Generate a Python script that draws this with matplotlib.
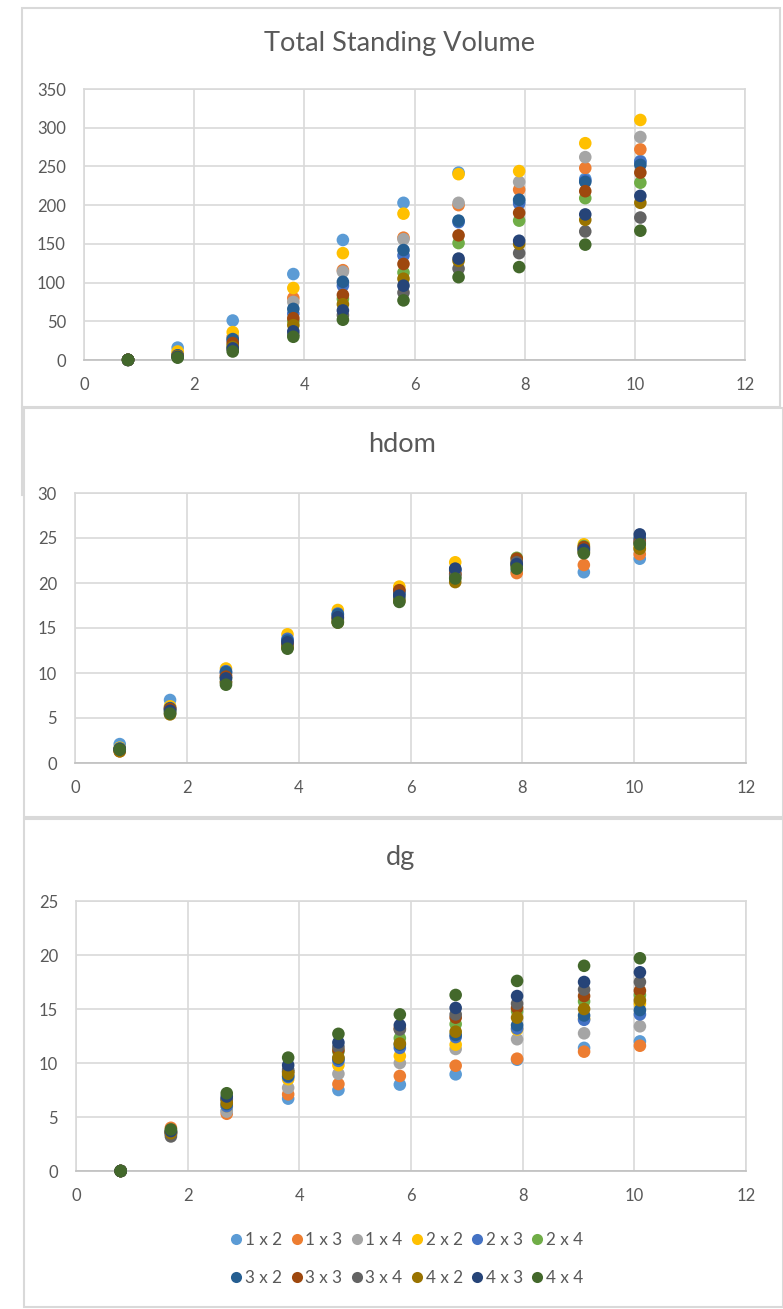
import matplotlib
matplotlib.use("Agg")
import matplotlib.pyplot as plt
from matplotlib.patches import Rectangle
from matplotlib.lines import Line2D

plt.rcParams['font.family'] = ['Lato', 'DejaVu Sans']

x_years = [0.8, 1.7, 2.7, 3.8, 4.7, 5.8, 6.8, 7.9, 9.1, 10.1]
series_names = ["1 x 2", "1 x 3", "1 x 4", "2 x 2", "2 x 3", "2 x 4",
                "3 x 2", "3 x 3", "3 x 4", "4 x 2", "4 x 3", "4 x 4"]
series_colors = ["#5B9BD5", "#ED7D31", "#A5A5A5", "#FFC000", "#4472C4", "#70AD47",
                 "#255E91", "#9E480E", "#636363", "#997300", "#264478", "#43682B"]

volume = {
    "1 x 2": [0.3, 16, 51, 111, 155, 203, 242, 205, 234, 257],
    "1 x 3": [0.2, 8, 30, 80, 116, 158, 200, 220, 248, 272],
    "1 x 4": [0.2, 7, 28, 75, 114, 156, 203, 230, 262, 288],
    "2 x 2": [0.3, 11, 36, 93, 138, 189, 240, 244, 280, 310],
    "2 x 3": [0.2, 6, 25, 60, 96, 135, 178, 202, 232, 256],
    "2 x 4": [0.2, 5, 19, 50, 79, 113, 151, 180, 209, 229],
    "3 x 2": [0.2, 6, 27, 66, 101, 142, 180, 207, 230, 252],
    "3 x 3": [0.2, 5, 22, 54, 84, 124, 161, 190, 218, 242],
    "3 x 4": [0.1, 4, 14, 33, 58, 87, 118, 138, 166, 184],
    "4 x 2": [0.2, 5, 17, 45, 72, 105, 128, 150, 181, 203],
    "4 x 3": [0.1, 4, 15, 37, 64, 96, 131, 154, 188, 212],
    "4 x 4": [0.1, 3, 11, 30, 52, 77, 107, 120, 149, 167],
}
hdom = {
    "1 x 2": [2.1, 7.0, 10.0, 13.6, 16.4, 19.0, 21.3, 21.3, 21.2, 22.7],
    "1 x 3": [1.3, 6.2, 9.8, 13.4, 16.2, 19.2, 21.0, 21.1, 22.0, 23.2],
    "1 x 4": [1.5, 6.0, 9.6, 13.3, 16.1, 18.9, 21.0, 21.8, 23.5, 23.8],
    "2 x 2": [1.7, 6.3, 10.5, 14.3, 17.0, 19.6, 22.3, 22.4, 24.3, 24.0],
    "2 x 3": [1.6, 6.0, 10.2, 13.8, 16.6, 19.1, 21.4, 22.2, 23.9, 24.8],
    "2 x 4": [1.5, 5.8, 9.4, 13.0, 15.8, 18.4, 20.6, 22.8, 24.1, 24.5],
    "3 x 2": [1.6, 6.1, 10.1, 13.6, 16.5, 18.8, 21.5, 22.0, 23.8, 25.0],
    "3 x 3": [1.5, 6.0, 9.6, 13.2, 16.0, 19.2, 21.0, 22.7, 24.0, 24.6],
    "3 x 4": [1.4, 5.6, 9.0, 12.9, 15.7, 18.2, 20.8, 22.3, 23.6, 24.4],
    "4 x 2": [1.3, 5.4, 9.0, 12.8, 15.6, 18.0, 20.1, 22.0, 23.4, 23.8],
    "4 x 3": [1.5, 5.8, 9.4, 13.4, 16.2, 18.6, 21.6, 22.1, 23.7, 25.4],
    "4 x 4": [1.5, 5.5, 8.7, 12.7, 15.6, 17.9, 20.5, 21.6, 23.3, 24.3],
}
dg = {
    "1 x 2": [0, 3.4, 5.6, 6.7, 7.5, 8.0, 8.95, 10.3, 11.4, 12.0],
    "1 x 3": [0, 4.0, 5.3, 7.1, 8.05, 8.8, 9.75, 10.4, 11.05, 11.6],
    "1 x 4": [0, 3.4, 5.5, 7.7, 9.0, 10.0, 11.3, 12.2, 12.75, 13.4],
    "2 x 2": [0, 3.6, 6.0, 8.5, 9.8, 10.65, 11.7, 13.1, 14.1, 15.5],
    "2 x 3": [0, 3.5, 6.0, 8.7, 10.2, 11.4, 12.4, 13.2, 14.0, 14.5],
    "2 x 4": [0, 3.7, 6.6, 9.2, 11.05, 12.3, 13.6, 14.8, 15.7, 16.3],
    "3 x 2": [0, 3.6, 6.2, 8.8, 10.4, 11.7, 12.6, 13.5, 14.4, 14.9],
    "3 x 3": [0, 3.6, 6.6, 9.2, 11.2, 13.2, 14.2, 15.1, 16.2, 16.7],
    "3 x 4": [0, 3.2, 6.7, 9.4, 11.5, 13.1, 14.5, 15.5, 16.8, 17.5],
    "4 x 2": [0, 3.5, 6.3, 9.0, 10.5, 11.8, 12.9, 14.2, 15.0, 15.8],
    "4 x 3": [0, 3.7, 6.9, 9.8, 11.9, 13.5, 15.1, 16.2, 17.5, 18.4],
    "4 x 4": [0, 3.85, 7.2, 10.5, 12.7, 14.5, 16.3, 17.6, 19.0, 19.7],
}

panel_titles = ["Total Standing Volume", "hdom", "dg"]
y_limits = [(0, 350, 50), (0, 30, 5), (0, 25, 5)]
x_ticks = [0, 2, 4, 6, 8, 10, 12]

W, H = 783, 1309
fig = plt.figure(figsize=(W / 100, H / 100), dpi=100)

TXT = "#595959"
GRID = "#D9D9D9"
BORDER = "#D9D9D9"

def px_rect(l, t, r, b):
    return [l / W, 1 - b / H, (r - l) / W, (b - t) / H]

# panel borders
for (l, t, r, b) in [(22, 8, 780, 407), (24, 408, 783, 817), (24, 819, 783, 1307)]:
    fig.patches.append(Rectangle((l / W, 1 - b / H), (r - l) / W, (b - t) / H,
                                 transform=fig.transFigure, fill=False,
                                 edgecolor=BORDER, linewidth=1.5))
fig.lines.append(Line2D([22 / W, 22 / W], [1 - 407 / H, 1 - 495 / H],
                        transform=fig.transFigure, color=BORDER, linewidth=1.5))

axes_px = [(84, 89, 745, 360), (75, 493, 746, 763), (76, 901, 746, 1171)]
title_pos = [(400, 44), (402, 445), (401, 857)]
datasets = [volume, hdom, dg]

for i, ax_px in enumerate(axes_px):
    ax = fig.add_axes(px_rect(*ax_px))
    data = datasets[i]
    for name, col in zip(series_names, series_colors):
        ax.scatter(x_years, data[name], s=82, color=col, edgecolors='none',
                   zorder=3, clip_on=False)
    lo, hi, step = y_limits[i]
    ax.set_ylim(lo, hi)
    ax.set_xlim(0, 12)
    ax.set_yticks(list(range(lo, hi + 1, step)))
    ax.set_xticks(x_ticks)
    ax.grid(True, color=GRID, linewidth=1.2, zorder=0)
    ax.set_axisbelow(True)
    for sp in ax.spines.values():
        sp.set_color(GRID)
        sp.set_linewidth(1.2)
    ax.spines['bottom'].set_color("#BFBFBF")
    ax.tick_params(length=0, labelsize=12, labelcolor=TXT)
    ax.tick_params(axis='y', pad=13)
    ax.tick_params(axis='x', pad=12)
    tx, ty = title_pos[i]
    fig.text(tx / W, 1 - ty / H, panel_titles[i], ha='center', va='center',
             fontsize=19.5, color=TXT)

handles = [Line2D([], [], linestyle='none', marker='o', markersize=8,
                  markerfacecolor=c, markeredgecolor='none') for c in series_colors]
# legend fills column-wise: interleave so rows read left-to-right
order = []
for k in range(6):
    order += [k, k + 6]
fig.legend([handles[k] for k in order], [series_names[k] for k in order],
           loc='center', ncol=6,
           bbox_to_anchor=(406 / W, 1 - 1259 / H), frameon=False,
           fontsize=12.3, labelcolor=TXT, handletextpad=0.05, columnspacing=0.4,
           handlelength=0.9, labelspacing=1.25)

fig.savefig("out.png", dpi=100)
